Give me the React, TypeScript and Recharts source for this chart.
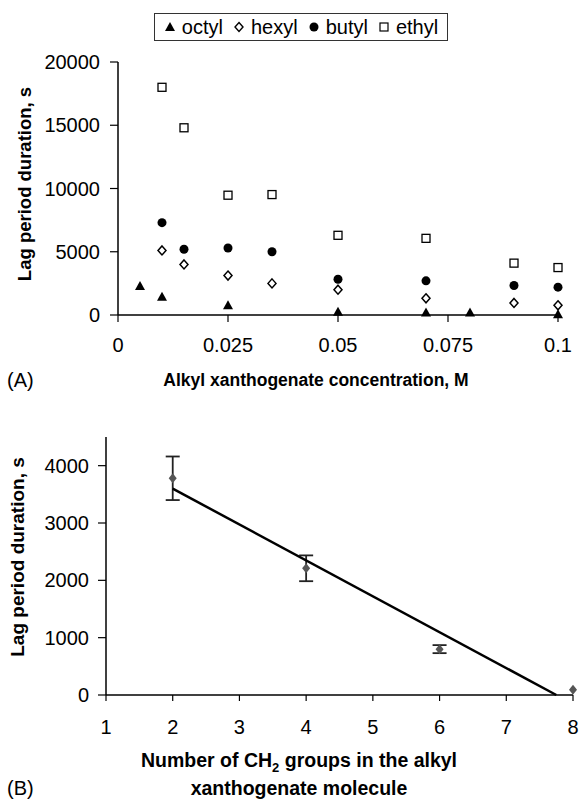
import React from 'react'
import {
  ScatterChart,
  Scatter,
  XAxis,
  YAxis,
  Legend,
  ErrorBar,
} from 'recharts'

// panel A: lag period vs xanthogenate concentration
const octyl = [
  { c: 0.005, lag: 2300 },
  { c: 0.01, lag: 1450 },
  { c: 0.025, lag: 780 },
  { c: 0.05, lag: 260 },
  { c: 0.07, lag: 200 },
  { c: 0.08, lag: 200 },
  { c: 0.1, lag: 50 },
]
const hexyl = [
  { c: 0.01, lag: 5100 },
  { c: 0.015, lag: 4000 },
  { c: 0.025, lag: 3120 },
  { c: 0.035, lag: 2500 },
  { c: 0.05, lag: 2000 },
  { c: 0.07, lag: 1320 },
  { c: 0.09, lag: 950 },
  { c: 0.1, lag: 770 },
]
const butyl = [
  { c: 0.01, lag: 7300 },
  { c: 0.015, lag: 5200 },
  { c: 0.025, lag: 5300 },
  { c: 0.035, lag: 5000 },
  { c: 0.05, lag: 2830 },
  { c: 0.07, lag: 2700 },
  { c: 0.09, lag: 2330 },
  { c: 0.1, lag: 2200 },
]
const ethyl = [
  { c: 0.01, lag: 18000 },
  { c: 0.015, lag: 14800 },
  { c: 0.025, lag: 9470 },
  { c: 0.035, lag: 9520 },
  { c: 0.05, lag: 6300 },
  { c: 0.07, lag: 6060 },
  { c: 0.09, lag: 4100 },
  { c: 0.1, lag: 3750 },
]
const concTicks = [0, 0.025, 0.05, 0.075, 0.1]
const lagTicksA = [0, 5000, 10000, 15000, 20000]

// panel B: lag period vs number of CH2 groups
const groups = [
  { n: 2, lag: 3780, err: 380 },
  { n: 4, lag: 2210, err: 225 },
  { n: 6, lag: 800, err: 70 },
  { n: 8, lag: 90, err: 0 },
]
const fitLine = [
  { n: 2, lag: 3600 },
  { n: 7.75, lag: 0 },
]
const groupTicks = [1, 2, 3, 4, 5, 6, 7, 8]
const lagTicksB = [0, 1000, 2000, 3000, 4000]

const FONT = '"Liberation Sans", Arial, sans-serif'
const tickStyle = { fill: '#000', fontSize: 20, fontFamily: FONT }

const Triangle = (p: any) => (
  <polygon
    points={`${p.cx},${p.cy - 5} ${p.cx - 5},${p.cy + 4} ${p.cx + 5},${p.cy + 4}`}
    fill="#000"
  />
)
const OpenDiamond = (p: any) => (
  <polygon
    points={`${p.cx},${p.cy - 4.5} ${p.cx + 4},${p.cy} ${p.cx},${p.cy + 4.5} ${p.cx - 4},${p.cy}`}
    fill="#fff"
    stroke="#000"
    strokeWidth={1.5}
  />
)
const Dot = (p: any) => <circle cx={p.cx} cy={p.cy} r={4.5} fill="#000" />
const OpenSquare = (p: any) => (
  <rect x={p.cx - 4} y={p.cy - 4} width={8} height={8} fill="#fff" stroke="#000" strokeWidth={1.3} />
)
const GrayDiamond = (p: any) => (
  <polygon
    points={`${p.cx},${p.cy - 5} ${p.cx + 4},${p.cy} ${p.cx},${p.cy + 5} ${p.cx - 4},${p.cy}`}
    fill="#555"
  />
)
const NoMark = () => <g />

const legendItems = [
  { name: 'octyl', icon: <polygon points="6,1 1,10 11,10" fill="#000" /> },
  { name: 'hexyl', icon: <polygon points="6,1.5 10,6 6,10.5 2,6" fill="#fff" stroke="#000" strokeWidth={1.4} /> },
  { name: 'butyl', icon: <circle cx={6} cy={6} r={4.5} fill="#000" /> },
  { name: 'ethyl', icon: <rect x={2} y={2} width={8} height={8} fill="#fff" stroke="#000" strokeWidth={1.2} /> },
]

function LegendBox() {
  return (
    <div
      style={{
        border: '1.5px solid #333',
        height: 26,
        width: 292,
        display: 'flex',
        alignItems: 'center',
        justifyContent: 'center',
        fontFamily: FONT,
        fontSize: 20,
        color: '#000',
        background: '#fff',
      }}
    >
      {legendItems.map((it) => (
        <span key={it.name} style={{ display: 'flex', alignItems: 'center', margin: '0 5px' }}>
          <svg width={12} height={12} style={{ marginRight: 6 }}>
            {it.icon}
          </svg>
          {it.name}
        </span>
      ))}
    </div>
  )
}

const bold = (size: number) => ({ fontFamily: FONT, fontSize: size, fontWeight: 700, fill: '#000' })

function PanelA() {
  return (
    <ScatterChart width={583} height={400} margin={{ top: 62, right: 25, bottom: 55, left: 58 }}>
      <XAxis
        type="number"
        dataKey="c"
        domain={[0, 0.1]}
        ticks={concTicks}
        tickFormatter={(v) => String(v)}
        height={30}
        tick={tickStyle}
        tickSize={7}
        tickMargin={16}
        axisLine={{ stroke: '#000', strokeWidth: 1.5 }}
        tickLine={{ stroke: '#000', strokeWidth: 1.2 }}
        label={() => (
          <g>
            <text x={316} y={386} textAnchor="middle" style={bold(17.5)}>
              Alkyl xanthogenate concentration, M
            </text>
            <text x={7} y={387} style={{ fontFamily: FONT, fontSize: 20, fill: '#000' }}>
              (A)
            </text>
          </g>
        )}
      />
      <YAxis
        type="number"
        dataKey="lag"
        domain={[0, 20000]}
        ticks={lagTicksA}
        width={60}
        tick={tickStyle}
        tickSize={8}
        tickMargin={10}
        axisLine={{ stroke: '#000', strokeWidth: 1.5 }}
        tickLine={{ stroke: '#000', strokeWidth: 1.2 }}
        label={() => (
          <text
            x={24}
            y={184}
            textAnchor="middle"
            dominantBaseline="central"
            transform="rotate(-90, 24, 184)"
            style={bold(18.5)}
          >
            Lag period duration, s
          </text>
        )}
      />
      <Legend
        layout="vertical"
        align="center"
        verticalAlign="middle"
        wrapperStyle={{ top: 13, left: 154, width: 294 }}
        content={() => <LegendBox />}
      />
      <Scatter name="octyl" data={octyl} shape={Triangle} isAnimationActive={false} />
      <Scatter name="hexyl" data={hexyl} shape={OpenDiamond} isAnimationActive={false} />
      <Scatter name="butyl" data={butyl} shape={Dot} isAnimationActive={false} />
      <Scatter name="ethyl" data={ethyl} shape={OpenSquare} isAnimationActive={false} />
    </ScatterChart>
  )
}

function PanelB() {
  return (
    <ScatterChart width={583} height={399} margin={{ top: 37, right: 10, bottom: 74, left: 46 }}>
      <XAxis
        type="number"
        dataKey="n"
        domain={[1, 8]}
        ticks={groupTicks}
        height={30}
        tick={tickStyle}
        tickSize={6}
        tickMargin={19}
        axisLine={{ stroke: '#000', strokeWidth: 1.5 }}
        tickLine={{ stroke: '#000', strokeWidth: 1.2 }}
        label={() => (
          <g>
            <text x={299} y={367} textAnchor="middle" style={bold(19.5)}>
              Number of CH<tspan fontSize={13} dy={5}>2</tspan>
              <tspan dy={-5}> groups in the alkyl</tspan>
            </text>
            <text x={299} y={395} textAnchor="middle" style={bold(19.5)}>
              xanthogenate molecule
            </text>
            <text x={7} y={395} style={{ fontFamily: FONT, fontSize: 20, fill: '#000' }}>
              (B)
            </text>
          </g>
        )}
      />
      <YAxis
        type="number"
        dataKey="lag"
        domain={[0, 4500]}
        ticks={lagTicksB}
        width={60}
        tick={tickStyle}
        tickSize={8}
        tickMargin={9}
        axisLine={{ stroke: '#000', strokeWidth: 1.5 }}
        tickLine={{ stroke: '#000', strokeWidth: 1.2 }}
        label={() => (
          <text
            x={17}
            y={157}
            textAnchor="middle"
            dominantBaseline="central"
            transform="rotate(-90, 17, 157)"
            style={bold(19)}
          >
            Lag period duration, s
          </text>
        )}
      />
      <Scatter
        data={fitLine}
        line={{ stroke: '#000', strokeWidth: 2.5 }}
        shape={NoMark}
        isAnimationActive={false}
      />
      <Scatter data={groups} shape={GrayDiamond} isAnimationActive={false}>
        <ErrorBar dataKey="err" direction="y" width={7} stroke="#222" strokeWidth={1.8} isAnimationActive={false} />
      </Scatter>
    </ScatterChart>
  )
}

export default function App() {
  return (
    <div style={{ position: 'absolute', left: 0, top: 0, width: 583, height: 799, background: '#fff' }}>
      <PanelA />
      <PanelB />
    </div>
  )
}
